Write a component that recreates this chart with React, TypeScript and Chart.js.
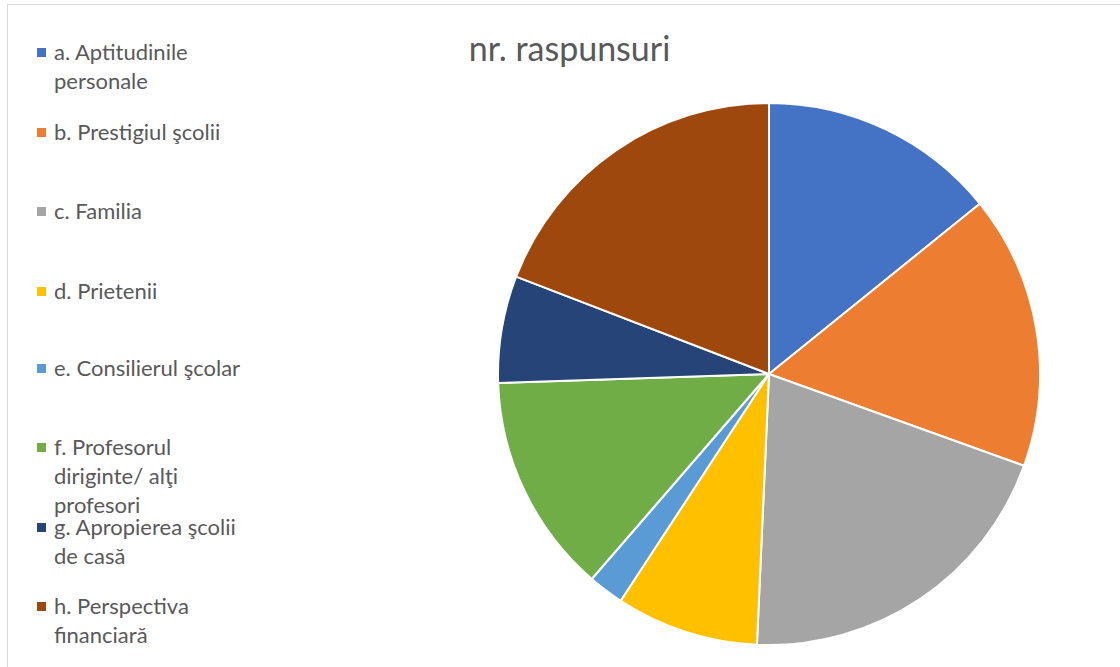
import React, { useEffect, useRef } from "react";
import { Chart, registerables } from "chart.js";

Chart.register(...registerables);

const titleText = "nr. raspunsuri";
const categories = [
  "a. Aptitudinile personale",
  "b. Prestigiul şcolii",
  "c. Familia",
  "d. Prietenii",
  "e. Consilierul şcolar",
  "f. Profesorul diriginte/ alţi profesori",
  "g. Apropierea şcolii de casă",
  "h. Perspectiva financiară",
];
const legendLines = [
  ["a. Aptitudinile", "personale"],
  ["b. Prestigiul şcolii"],
  ["c. Familia"],
  ["d. Prietenii"],
  ["e. Consilierul şcolar"],
  ["f. Profesorul", "diriginte/ alţi", "profesori"],
  ["g. Apropierea şcolii", "de casă"],
  ["h. Perspectiva", "financiară"],
];
const values = [20, 23, 28.5, 12, 3, 18.5, 9, 27];
const colors = ["#4472C4", "#ED7D31", "#A5A5A5", "#FFC000", "#5B9BD5", "#70AD47", "#264478", "#9E480E"];

const legendTop = [37, 117, 196, 276, 353, 432, 512, 591];
const FONT = "Lato, 'Open Sans', sans-serif";

export default function App() {
  const ref = useRef<HTMLCanvasElement | null>(null);
  useEffect(() => {
    if (!ref.current) return;
    const chart = new Chart(ref.current, {
      type: "pie",
      data: {
        labels: categories,
        datasets: [
          {
            data: values,
            backgroundColor: colors,
            borderColor: "#ffffff",
            borderWidth: 2,
          },
        ],
      },
      options: {
        animation: false,
        responsive: false,
        maintainAspectRatio: false,
        layout: { padding: 0 },
        plugins: {
          legend: { display: false },
          title: { display: false },
          tooltip: { enabled: false },
        },
      },
    });
    return () => chart.destroy();
  }, []);

  return (
    <div
      style={{
        position: "fixed",
        left: 0,
        top: 0,
        width: 1120,
        height: 667,
        background: "#ffffff",
        overflow: "hidden",
        fontFamily: FONT,
      }}
    >
      <div
        style={{
          position: "absolute",
          left: 7,
          top: 4,
          width: 1120,
          height: 700,
          borderLeft: "1px solid #d9d9d9",
          borderTop: "1px solid #d9d9d9",
        }}
      />
      <div
        style={{
          position: "absolute",
          left: 0,
          width: 1139,
          top: 28,
          textAlign: "center",
          fontSize: 34,
          lineHeight: "40px",
          color: "#595959",
        }}
      >
        {titleText}
      </div>
      {legendLines.map((lines, i) => (
        <div
          key={i}
          style={{
            position: "absolute",
            left: 37,
            top: legendTop[i],
          }}
        >
          <div
            style={{
              position: "absolute",
              left: 0,
              top: 11,
              width: 9,
              height: 9,
              background: colors[i],
            }}
          />
          <div
            style={{
              position: "absolute",
              left: 17,
              top: 0,
              whiteSpace: "nowrap",
              fontSize: 22,
              lineHeight: "29px",
              color: "#595959",
            }}
          >
            {lines.map((l, j) => (
              <div key={j}>{l}</div>
            ))}
          </div>
        </div>
      ))}
      <canvas
        ref={ref}
        width={544}
        height={544}
        style={{ position: "absolute", left: 497, top: 102, width: 544, height: 544 }}
      />
    </div>
  );
}
